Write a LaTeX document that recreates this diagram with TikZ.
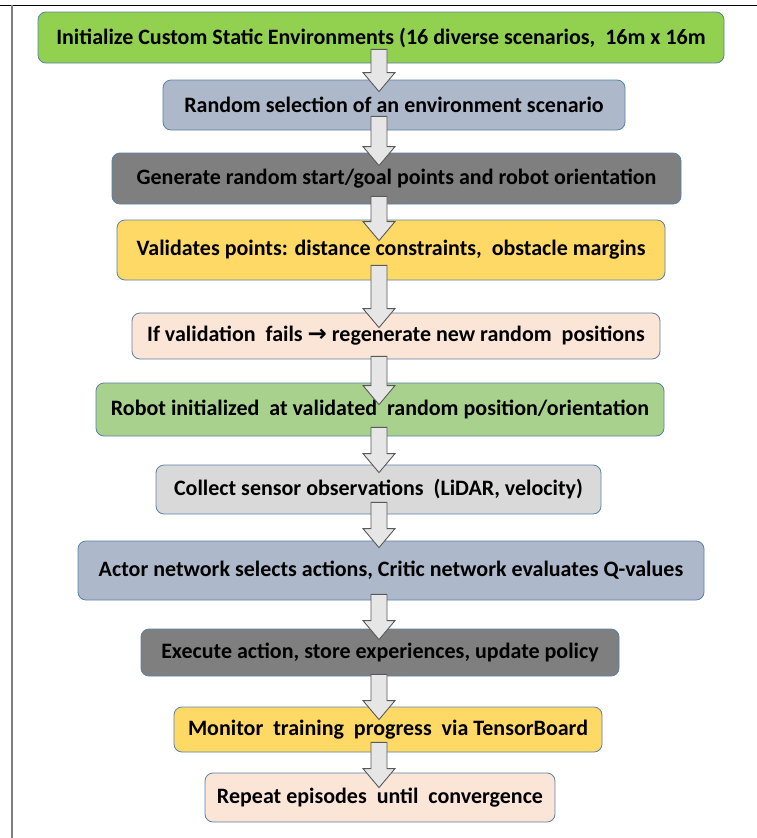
\documentclass[tikz,border=0pt]{standalone}
\usepackage{fontspec}
\setmainfont{Carlito}
\newfontfamily\symfont{DejaVu Sans}
\usepackage{tikz}
\usetikzlibrary{calc}
\definecolor{edge}{HTML}{5B80A8}
\definecolor{frame}{HTML}{7F7F7F}
\definecolor{grnbg}{HTML}{92D050}
\definecolor{lgrnbg}{HTML}{A9D18E}
\definecolor{bluebg}{HTML}{ADB9CA}
\definecolor{darkbg}{HTML}{7F7F7F}
\definecolor{lgraybg}{HTML}{D9D9D9}
\definecolor{yelbg}{HTML}{FFD966}
\definecolor{peachbg}{HTML}{FBE5D6}
\definecolor{arrbg}{HTML}{E7E6E6}
\definecolor{arrline}{HTML}{595959}
\tikzset{
  blk/.style={draw=edge,rounded corners=8pt,align=center,inner sep=0pt,line width=0.8pt,
              font=\fontsize{22}{26}\selectfont\bfseries,text=black},
  grnblk/.style={blk,fill=grnbg},
  lgrnblk/.style={blk,fill=lgrnbg},
  blueblk/.style={blk,fill=bluebg},
  darkblk/.style={blk,fill=darkbg},
  lgrayblk/.style={blk,fill=lgraybg},
  yelblk/.style={blk,fill=yelbg},
  peachblk/.style={blk,fill=peachbg},
  barrow/.style={draw=arrline,fill=arrbg,line width=0.9pt,line join=miter},
}
% block arrow from the bottom of #1 to the top of #2 (#3, #4 = overlaps)
\newcommand{\flowarrow}[4]{%
  \draw[barrow] let \p1=(#1.south), \p2=(#2.north), \p3=(spine) in
    (\x3-8pt,\y1+#3pt) -- (\x3+8pt,\y1+#3pt) -- (\x3+8pt,\y2-#4pt+19pt)
    -- (\x3+16pt,\y2-#4pt+19pt) -- (\x3,\y2-#4pt) -- (\x3-16pt,\y2-#4pt+19pt)
    -- (\x3-8pt,\y2-#4pt+19pt) -- cycle;}

\begin{document}
\begin{tikzpicture}[x=1pt,y=-1pt]
\useasboundingbox (0,0) rectangle (757,838);

% ---- frame
\draw[black,line width=1pt] (0,5) -- (757,5);
\draw[frame,line width=2pt] (12,5) -- (12,838);

% ---- steps
\node[grnblk,minimum width=686,minimum height=51] (init) at (381,37.5)
  {Initialize Custom Static Environments (16 diverse scenarios,\ \ 16m x 16m};
\node[blueblk,minimum width=462,minimum height=50] (pick) at (394,105)
  {Random selection of an environment scenario};
\node[darkblk,minimum width=569,minimum height=51] (gen) at (396.5,178.5)
  {Generate random start/goal points and robot orientation};
\node[yelblk,minimum width=548,minimum height=60] (valid) at (391,250)
  {Validates points: distance constraints,\ \ obstacle margins};
\node[peachblk,minimum width=528,minimum height=46] (regen) at (396,336)
  {If validation\ \ fails {\symfont\fontsize{23}{26}\selectfont\bfseries →} regenerate new random\ \ positions};
\node[lgrnblk,minimum width=568,minimum height=53] (place) at (380,409.5)
  {Robot initialized\ \ at validated\ \ random position/orientation};
\node[lgrayblk,minimum width=445,minimum height=49] (sense) at (378.5,489.5)
  {Collect sensor observations\ \ (LiDAR, velocity)};
\node[blueblk,minimum width=626,minimum height=59] (actcrit) at (391,570.5)
  {Actor network selects actions, Critic network evaluates Q-values};
\node[darkblk,minimum width=478,minimum height=47] (exec) at (380,652.5)
  {Execute action, store experiences, update policy};
\node[yelblk,minimum width=428,minimum height=45] (monitor) at (388,729.5)
  {Monitor\ \ training\ \ progress\ \ via TensorBoard};
\node[peachblk,minimum width=350,minimum height=49] (repeat) at (380,797.5)
  {Repeat episodes\ \ until\ \ convergence};

% ---- arrows
\coordinate (spine) at (379,0);
\foreach \a/\b/\t/\h in {init/pick/14/12, pick/gen/14/13, gen/valid/8/21,
    valid/regen/15/15, regen/place/3/22, place/sense/9/8, sense/actcrit/12/7,
    actcrit/exec/6/11, exec/monitor/2/13, monitor/repeat/10/15}
  {\flowarrow{\a}{\b}{\t}{\h}}

\end{tikzpicture}
\end{document}
